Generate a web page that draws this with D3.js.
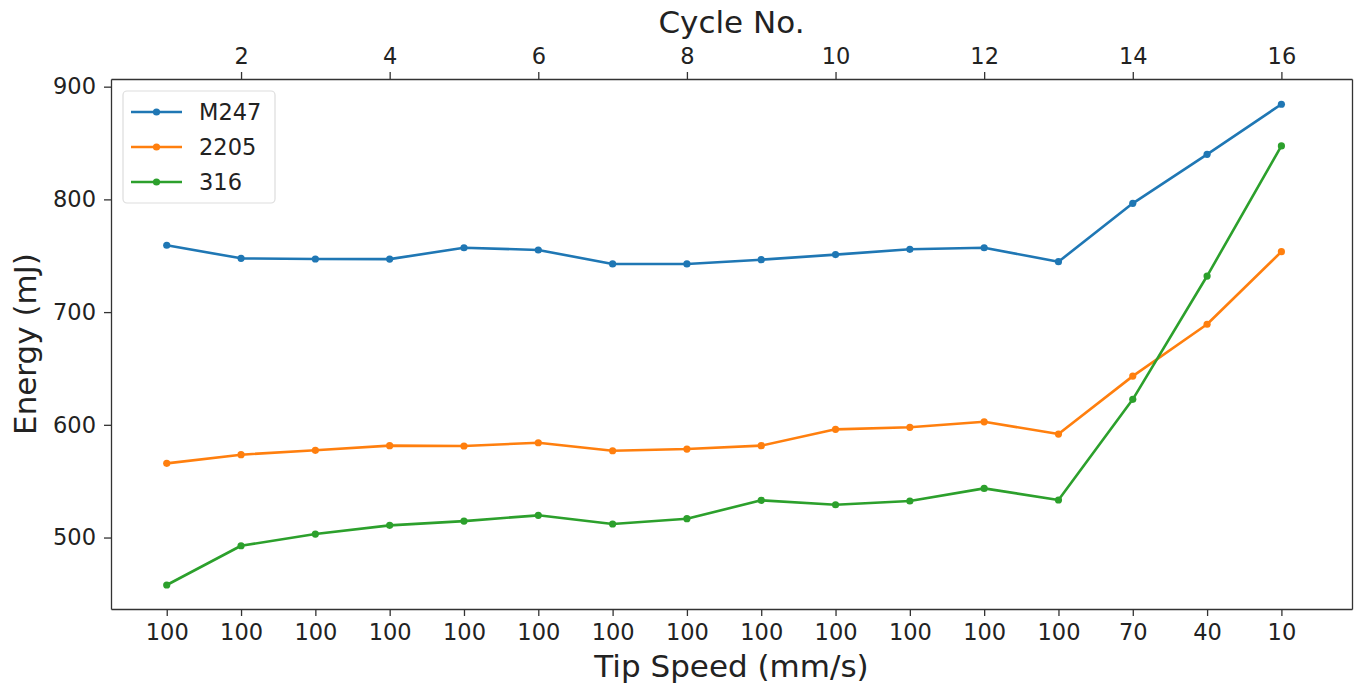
<!DOCTYPE html>
<html>
<head>
<meta charset="utf-8">
<script src="https://cdnjs.cloudflare.com/ajax/libs/d3/7.8.5/d3.min.js"></script>
<style>
  body { margin: 0; background: #fff; }
  svg text { font-family: "DejaVu Sans", sans-serif; fill: #222; }
</style>
</head>
<body>
<svg width="1355" height="688"></svg>
<script>
// номера циклов
const cycles = [1, 2, 3, 4, 5, 6, 7, 8, 9, 10, 11, 12, 13, 14, 15, 16];
// подписи скорости снизу
const tipSpeeds = ["100", "100", "100", "100", "100", "100", "100", "100", "100", "100", "100", "100", "100", "70", "40", "10"];
// деления сверху
const cycleTicks = [2, 4, 6, 8, 10, 12, 14, 16];
const energyTicks = [500, 600, 700, 800, 900];

const m247 = [759.3, 747.7, 747.1, 747.0, 757.1, 755.1, 742.7, 742.7, 746.5, 751.0, 755.7, 757.1, 744.7, 796.5, 840.0, 884.4];
const s2205 = [565.8, 573.5, 577.4, 581.5, 581.2, 584.1, 577.0, 578.5, 581.5, 596.0, 597.8, 602.7, 591.8, 643.2, 689.2, 753.6];
const s316 = [457.9, 492.7, 503.1, 510.8, 514.6, 519.7, 512.0, 516.7, 533.0, 529.1, 532.4, 543.6, 533.3, 622.6, 732.0, 847.4];

const seriesNames = ["M247", "2205", "316"];
const seriesColors = ["#1f77b4", "#ff7f0e", "#2ca02c"];
const seriesData = [m247, s2205, s316];

const svg = d3.select("svg");
const width = +svg.attr("width");
const height = +svg.attr("height");
const margin = { top: 79, right: 3, bottom: 79, left: 111 };

const x = d3.scaleLinear()
    .domain([0.25, 16.95])
    .range([margin.left, width - margin.right]);

const y = d3.scaleLinear()
    .domain([436.6, 906.8])
    .range([height - margin.bottom, margin.top]);

const tickFont = "22.5px";

// нижняя ось
const xBottom = svg.append("g")
    .attr("transform", `translate(0,${height - margin.bottom})`)
    .call(d3.axisBottom(x).tickValues(cycles).tickFormat((d, i) => tipSpeeds[i]).tickSize(7).tickPadding(8).tickSizeOuter(0));

// верхняя ось
const xTop = svg.append("g")
    .attr("transform", `translate(0,${margin.top})`)
    .call(d3.axisTop(x).tickValues(cycleTicks).tickFormat(d3.format("d")).tickSize(7).tickPadding(8).tickSizeOuter(0));

// левая ось
const yLeft = svg.append("g")
    .attr("transform", `translate(${margin.left},0)`)
    .call(d3.axisLeft(y).tickValues(energyTicks).tickSize(7).tickPadding(8).tickSizeOuter(0));

// правая рамка
const yRight = svg.append("g")
    .attr("transform", `translate(${width - margin.right},0)`)
    .call(d3.axisRight(y).tickValues([]).tickSizeOuter(0));

[xBottom, xTop, yLeft, yRight].forEach(g => {
    g.selectAll("path").attr("stroke", "#333").attr("stroke-width", 1.3);
    g.selectAll("line").attr("stroke", "#333").attr("stroke-width", 1.3);
    g.selectAll("text").style("font-size", tickFont).attr("fill", "#222")
        .style("font-family", "DejaVu Sans, sans-serif");
});

// подписи осей
svg.append("text")
    .attr("x", (margin.left + width - margin.right) / 2)
    .attr("y", 33)
    .attr("text-anchor", "middle")
    .style("font-size", "31px")
    .text("Cycle No.");

svg.append("text")
    .attr("x", (margin.left + width - margin.right) / 2)
    .attr("y", 677)
    .attr("text-anchor", "middle")
    .style("font-size", "31px")
    .text("Tip Speed (mm/s)");

svg.append("text")
    .attr("transform", `translate(36,${(margin.top + height - margin.bottom) / 2}) rotate(-90)`)
    .attr("text-anchor", "middle")
    .style("font-size", "31px")
    .text("Energy (mJ)");

// линии
const line = d3.line()
    .x((d, i) => x(cycles[i]))
    .y(d => y(d));

seriesData.forEach((data, k) => {
    svg.append("path")
        .attr("d", line(data))
        .attr("fill", "none")
        .attr("stroke", seriesColors[k])
        .attr("stroke-width", 2.6)
        .attr("stroke-linejoin", "round");

    svg.append("g").selectAll("circle")
        .data(data)
        .join("circle")
        .attr("cx", (d, i) => x(cycles[i]))
        .attr("cy", d => y(d))
        .attr("r", 3.6)
        .attr("fill", seriesColors[k]);
});

// легенда
const legend = svg.append("g");
legend.append("rect")
    .attr("x", 123).attr("y", 91)
    .attr("width", 152).attr("height", 112)
    .attr("rx", 4)
    .attr("fill", "#fff")
    .attr("stroke", "#ddd")
    .attr("stroke-width", 1.2);

seriesNames.forEach((name, k) => {
    const ly = 112 + k * 35;
    legend.append("line")
        .attr("x1", 131).attr("x2", 182)
        .attr("y1", ly).attr("y2", ly)
        .attr("stroke", seriesColors[k])
        .attr("stroke-width", 2.6);
    legend.append("circle")
        .attr("cx", 156.5).attr("cy", ly).attr("r", 3.6)
        .attr("fill", seriesColors[k]);
    legend.append("text")
        .attr("x", 199).attr("y", ly + 8)
        .style("font-size", "22.5px")
        .text(name);
});
</script>
</body>
</html>
